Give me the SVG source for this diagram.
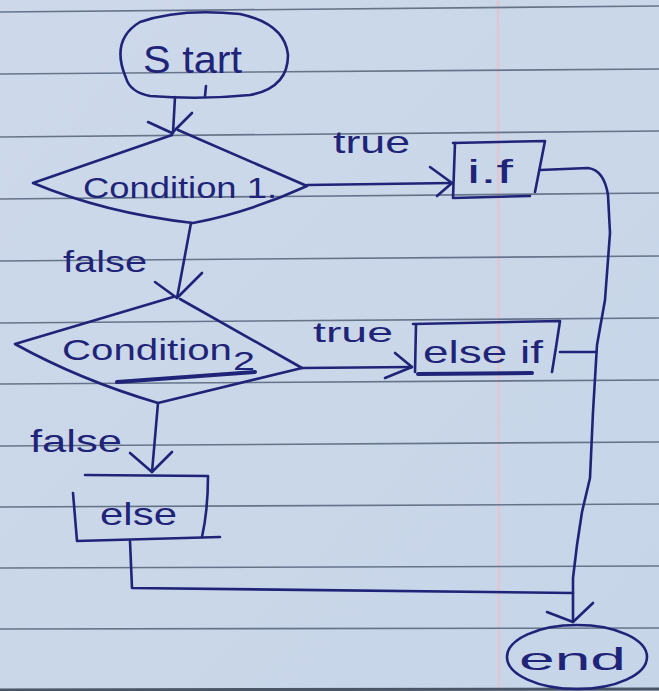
<svg xmlns="http://www.w3.org/2000/svg" width="659" height="691" viewBox="0 0 659 691">
  <defs>
    <linearGradient id="paperShade" x1="0" y1="0" x2="1" y2="1">
      <stop offset="0" stop-color="#cdd9ea"/>
      <stop offset="1" stop-color="#c6d5e8"/>
    </linearGradient>
    <style>
      .rule { stroke: #66748a; stroke-width: 1.6; fill: none; }
      .margin { stroke: #e2c4d2; stroke-width: 3; fill: none; opacity: 0.8; }
      .ink { stroke: #1f2478; stroke-width: 2.6; fill: none; stroke-linecap: round; stroke-linejoin: round; }
      .thick { stroke: #1f2478; stroke-width: 4; fill: none; stroke-linecap: round; }
      .txt { fill: #1f2478; font-family: "Liberation Sans", "DejaVu Sans", sans-serif; }
    </style>
  </defs>

  <!-- ruled notebook paper -->
  <g id="paper">
    <rect x="0" y="0" width="659" height="691" fill="url(#paperShade)"/>
    <line class="margin" x1="498" y1="0" x2="499" y2="691"/>
    <line class="rule" x1="0" y1="12" x2="659" y2="6"/>
    <line class="rule" x1="0" y1="74" x2="659" y2="69"/>
    <line class="rule" x1="0" y1="137" x2="659" y2="131"/>
    <line class="rule" x1="0" y1="199" x2="659" y2="193"/>
    <line class="rule" x1="0" y1="261" x2="659" y2="256"/>
    <line class="rule" x1="0" y1="323" x2="659" y2="318"/>
    <line class="rule" x1="0" y1="384" x2="659" y2="380"/>
    <line class="rule" x1="0" y1="446" x2="659" y2="442"/>
    <line class="rule" x1="0" y1="507" x2="659" y2="504"/>
    <line class="rule" x1="0" y1="568" x2="659" y2="566"/>
    <line class="rule" x1="0" y1="629" x2="659" y2="628"/>
    <line x1="0" y1="690" x2="659" y2="689" stroke="#4a5566" stroke-width="3"/>
  </g>

  <!-- connectors -->
  <g id="connectors">
    <!-- start -> condition 1 -->
    <path class="ink" d="M175,97 L173,133"/>
    <path class="ink" d="M148,122 L172,133 L192,113"/>
    <!-- condition 1 -> if (true) -->
    <path class="ink" d="M307,185 L452,183"/>
    <path class="ink" d="M430,167 L452,183 L437,196"/>
    <!-- condition 1 -> condition 2 (false) -->
    <path class="ink" d="M191,223 L177,298"/>
    <path class="ink" d="M155,282 L177,298 L202,273"/>
    <!-- condition 2 -> else if (true) -->
    <path class="ink" d="M302,368 L412,367"/>
    <path class="ink" d="M395,353 L412,367 L385,378"/>
    <!-- condition 2 -> else (false) -->
    <path class="ink" d="M158,403 L152,472"/>
    <path class="ink" d="M130,453 L152,472 L172,452"/>
    <!-- if -> end, along the right side -->
    <path class="ink" d="M540,170 L588,168 Q604,170 608,195 L610,233 L605,300 L597,345 L593,412 L590,478 L582,512 L577,545 L573,578 L573,622"/>
    <!-- else if joins the right-hand line -->
    <path class="ink" d="M560,352 L596,352"/>
    <!-- else -> end -->
    <path class="ink" d="M130,541 L132,588 L573,593"/>
    <path class="ink" d="M547,612 L573,622 L593,603"/>
  </g>

  <!-- start terminal -->
  <g id="node-start">
    <path class="ink" d="M126,78 Q110,40 140,22 Q180,8 240,14 Q285,24 288,55 Q288,88 250,95 Q200,100 150,96 Q130,92 126,78 Z"/>
    <line class="ink" x1="206" y1="86" x2="205" y2="96"/>
    <text class="txt" x="143" y="73" font-size="38" textLength="99" lengthAdjust="spacingAndGlyphs">S tart</text>
  </g>

  <!-- first decision -->
  <g id="node-cond1">
    <path class="ink" d="M172,135 L33,183 Q105,213 193,223 Q250,212 307,186 L178,130"/>
    <text class="txt" x="83" y="198" font-size="30" textLength="194" lengthAdjust="spacingAndGlyphs">Condition 1.</text>
  </g>

  <!-- if block -->
  <g id="node-if">
    <path class="ink" d="M453,143 L545,141 L535,192"/>
    <path class="ink" d="M455,143 L453,198 L530,196"/>
    <text class="txt" x="467" y="183" font-size="34" textLength="46" lengthAdjust="spacingAndGlyphs">i.f</text>
    <text class="txt" x="333" y="153" font-size="32" textLength="77" lengthAdjust="spacingAndGlyphs">true</text>
  </g>

  <!-- second decision -->
  <g id="node-cond2">
    <path class="ink" d="M173,297 L15,344 Q80,380 158,403 L302,368 L180,299"/>
    <path class="thick" d="M117,382 L255,372"/>
    <text class="txt" x="62" y="360" font-size="30" textLength="170" lengthAdjust="spacingAndGlyphs">Condition</text>
    <text class="txt" x="233" y="370" font-size="26" textLength="22" lengthAdjust="spacingAndGlyphs">2</text>
    <text class="txt" x="63" y="272" font-size="30" textLength="84" lengthAdjust="spacingAndGlyphs">false</text>
  </g>

  <!-- else if block -->
  <g id="node-elseif">
    <path class="ink" d="M413,324 L560,321 Q556,348 552,372"/>
    <path class="ink" d="M416,325 L415,372"/>
    <path class="thick" d="M418,374 L532,373"/>
    <text class="txt" x="423" y="363" font-size="32" textLength="120" lengthAdjust="spacingAndGlyphs">else if</text>
    <text class="txt" x="313" y="342" font-size="28" textLength="80" lengthAdjust="spacingAndGlyphs">true</text>
  </g>

  <!-- else block -->
  <g id="node-else">
    <path class="ink" d="M85,475 L208,476 Q208,510 202,537"/>
    <path class="ink" d="M73,493 L77,541 L220,537"/>
    <text class="txt" x="100" y="525" font-size="32" textLength="77" lengthAdjust="spacingAndGlyphs">else</text>
    <text class="txt" x="30" y="452" font-size="32" textLength="92" lengthAdjust="spacingAndGlyphs">false</text>
  </g>

  <!-- end terminal -->
  <g id="node-end">
    <ellipse class="ink" cx="577" cy="657" rx="70" ry="32"/>
    <text class="txt" x="519" y="670" font-size="32" textLength="107" lengthAdjust="spacingAndGlyphs">end</text>
  </g>
</svg>
